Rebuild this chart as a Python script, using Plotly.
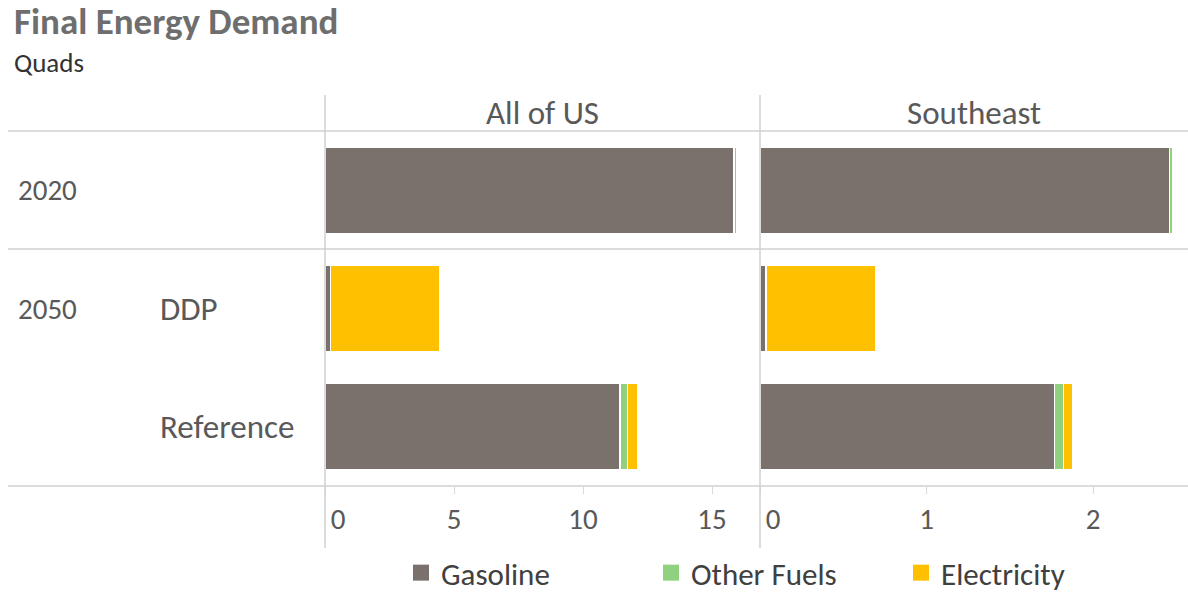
import plotly.graph_objects as go

# ---------------- data ----------------
rows = ["2020", "DDP", "Reference"]
row_pos = [0, 1, 2]
panels = ["All of US", "Southeast"]
series = ["Gasoline", "Other Fuels", "Electricity"]
colors = {"Gasoline": "#7A716D", "Other Fuels": "#8FD17E", "Electricity": "#FFC000"}

us_gasoline = [15.85, 0.20, 11.43]
us_other = [0.12, 0.00, 0.30]
us_electricity = [0.00, 4.26, 0.40]

se_gasoline = [2.46, 0.036, 1.77]
se_other = [0.015, 0.00, 0.05]
se_electricity = [0.00, 0.66, 0.06]

us_ticks = [0, 5, 10, 15]
se_ticks = [0, 1, 2]

group_labels = [("2020", 0), ("2050", 1)]
sub_labels = [("DDP", 1), ("Reference", 2)]

FONT = "Carlito, Calibri, Lato, sans-serif"
W, H = 1188, 601
TOP, BOTTOM = 131, 486
X_US0, X_US1 = 325, 759
X_SE0, X_SE1 = 760, 1188


def py(p):
    return (BOTTOM - p) / (BOTTOM - TOP)


def px(p):
    return p / W


fig = go.Figure()

panel_data = [
    ("x", [us_gasoline, us_other, us_electricity]),
    ("x2", [se_gasoline, se_other, se_electricity]),
]
for xa, vals in panel_data:
    for name, v in zip(series, vals):
        fig.add_trace(go.Bar(
            x=v, y=row_pos, orientation="h", name=name,
            marker=dict(color=colors[name], line=dict(color="white", width=1.2)),
            width=0.73, xaxis=xa, yaxis="y", showlegend=False,
            hoverinfo="x+name",
        ))

# legend entries
for name in series:
    fig.add_trace(go.Scatter(
        x=[None], y=[None], mode="markers", name=name,
        marker=dict(symbol="square", size=17, color=colors[name]),
        xaxis="x", yaxis="y", showlegend=True,
    ))

nb = "\u00a0" * 4
axis_common = dict(
    showgrid=False, zeroline=False, showline=False, automargin=False,
    ticks="outside", ticklen=7, tickcolor="#D9D9D9", tickwidth=1,
    tickfont=dict(family=FONT, size=29, color="#595959"),
    fixedrange=True,
)
fig.update_layout(
    width=W, height=H,
    margin=dict(l=0, r=0, t=TOP, b=H - BOTTOM, autoexpand=False),
    paper_bgcolor="white", plot_bgcolor="white",
    barmode="stack", bargap=0.27,
    xaxis=dict(domain=[px(X_US0), px(X_US1)], range=[0, 16.82],
               tickvals=us_ticks, ticktext=[nb + str(us_ticks[0])] + [str(t) for t in us_ticks[1:]],
               **axis_common),
    xaxis2=dict(domain=[px(X_SE0), 1.0], range=[0, 2.57],
                tickvals=se_ticks, ticktext=[nb + str(se_ticks[0])] + [str(t) for t in se_ticks[1:]],
                anchor="y", **axis_common),
    yaxis=dict(range=[2.5, -0.5], showticklabels=False, showgrid=False, zeroline=False,
               showline=False, ticks="", fixedrange=True, automargin=False),
    showlegend=True,
    legend=dict(orientation="h", x=px(401), y=py(600), xanchor="left", yanchor="bottom",
                traceorder="normal",
                font=dict(family=FONT, size=31, color="#404040"),
                entrywidth=205, entrywidthmode="pixels", itemwidth=30,
                bgcolor="rgba(0,0,0,0)"),
    font=dict(family=FONT, color="#595959"),
)

LINE = dict(color="#D0D0D0", width=1.5)
shapes = []
for yy in [TOP, 249, BOTTOM]:
    shapes.append(dict(type="line", xref="paper", yref="paper",
                       x0=px(8), x1=1.0, y0=py(yy), y1=py(yy), line=LINE))
for xx in [X_US0, X_SE0]:
    shapes.append(dict(type="line", xref="paper", yref="paper",
                       x0=px(xx), x1=px(xx), y0=py(95), y1=py(548), line=LINE))
fig.update_layout(shapes=shapes)

ann = []
ann.append(dict(text="<b>Final Energy Demand</b>", xref="paper", yref="paper",
                x=px(12), y=py(22), xanchor="left", yanchor="middle", showarrow=False,
                font=dict(family=FONT, size=37, color="#6E6E6E")))
ann.append(dict(text="Quads", xref="paper", yref="paper",
                x=px(12), y=py(62), xanchor="left", yanchor="middle", showarrow=False,
                font=dict(family=FONT, size=27, color="#333333")))
for title, (a, b) in zip(panels, [(X_US0, X_US1), (X_SE0, X_SE1)]):
    ann.append(dict(text=title, xref="paper", yref="paper",
                    x=px((a + b) / 2), y=py(113), xanchor="center", yanchor="middle",
                    showarrow=False, font=dict(family=FONT, size=33, color="#595959")))
for lab, pos in group_labels:
    ann.append(dict(text=lab, xref="paper", yref="y", x=px(16), y=pos,
                    xanchor="left", yanchor="middle", showarrow=False,
                    font=dict(family=FONT, size=29, color="#595959")))
for lab, pos in sub_labels:
    ann.append(dict(text=lab, xref="paper", yref="y", x=px(158), y=pos,
                    xanchor="left", yanchor="middle", showarrow=False,
                    font=dict(family=FONT, size=33, color="#595959")))
fig.update_layout(annotations=ann)

fig.write_html("out.html", config={"displayModeBar": False},
               post_script="document.body.style.margin='0px';")
